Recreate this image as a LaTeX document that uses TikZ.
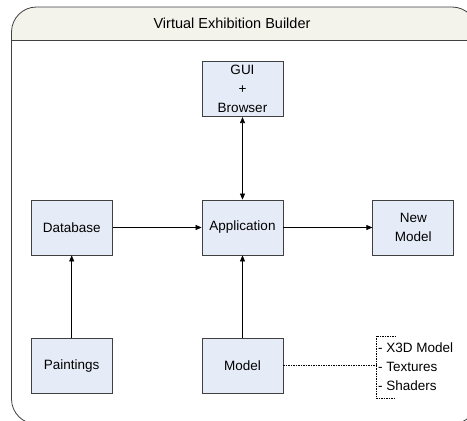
\documentclass[tikz,border=0pt]{standalone}
\usepackage{fontspec}
\setmainfont{Liberation Sans}
\usetikzlibrary{positioning,arrows.meta}

\definecolor{boxfill}{HTML}{E6ECF7}
\definecolor{boxline}{HTML}{404040}
\definecolor{titlefill}{HTML}{F3F3EC}

\begin{document}
\begin{tikzpicture}[x=1pt,y=1pt,
			blocknode/.style={rectangle, draw=boxline, fill=boxfill, line width=0.8pt, minimum width=81pt, minimum height=55pt, align=center, font=\fontsize{13.5}{19}\selectfont},
			link/.style={-{Triangle[length=6pt,width=5pt]}, line width=0.7pt},
			node distance=82.5pt and 89pt,
			]
			\useasboundingbox (0,0) rectangle (467,421);
			%Frame
			\begin{scope}
				\clip[rounded corners=25pt] (11.5,-3) rectangle (477,414);
				\fill[titlefill] (11.5,381) rectangle (477,414);
			\end{scope}
			\draw[boxline, line width=0.8pt, rounded corners=25pt] (11.5,-3) rectangle (477,414);
			\draw[boxline, line width=0.8pt] (11.5,381) -- (477,381);
			\node[font=\fontsize{14.5}{17}\selectfont] (title) at (232,398) {Virtual Exhibition Builder};

			%Nodes
			\node[blocknode] (app) at (242.5,193.5) {Application};
			\node[blocknode] (gui)      [above=of app] {GUI\\+\\Browser};
			\node[blocknode] (db)       [left=of app]  {Database};
			\node[blocknode] (newmodel) [right=of app] {New\\Model};
			\node[blocknode] (model)    [below=of app] {Model};
			\node[blocknode] (paint)    [below=of db]  {Paintings};
			\node[anchor=west, align=left, inner xsep=2pt, inner ysep=7pt, font=\fontsize{13.5}{19}\selectfont] (parts) at (376,54) {- X3D Model\\- Textures\\- Shaders};

			%Arrows
			\draw[link, {Triangle[length=6pt,width=5pt]}-{Triangle[length=6pt,width=5pt]}] (gui) -- (app);
			\draw[link] (db) -- (app);
			\draw[link] (app) -- (newmodel);
			\draw[link] (paint) -- (db);
			\draw[link] (model) -- (app);

			%Bracket
			\draw[dashed, line width=0.6pt, dash pattern=on 1.5pt off 1pt] ([xshift=20pt]parts.north west) -- (parts.north west) -- (parts.south west) -- ++(20pt,0);
			\draw[dashed, line width=0.6pt, dash pattern=on 1.5pt off 1pt] (model) -- (model -| parts.west);
		\end{tikzpicture}
\end{document}
